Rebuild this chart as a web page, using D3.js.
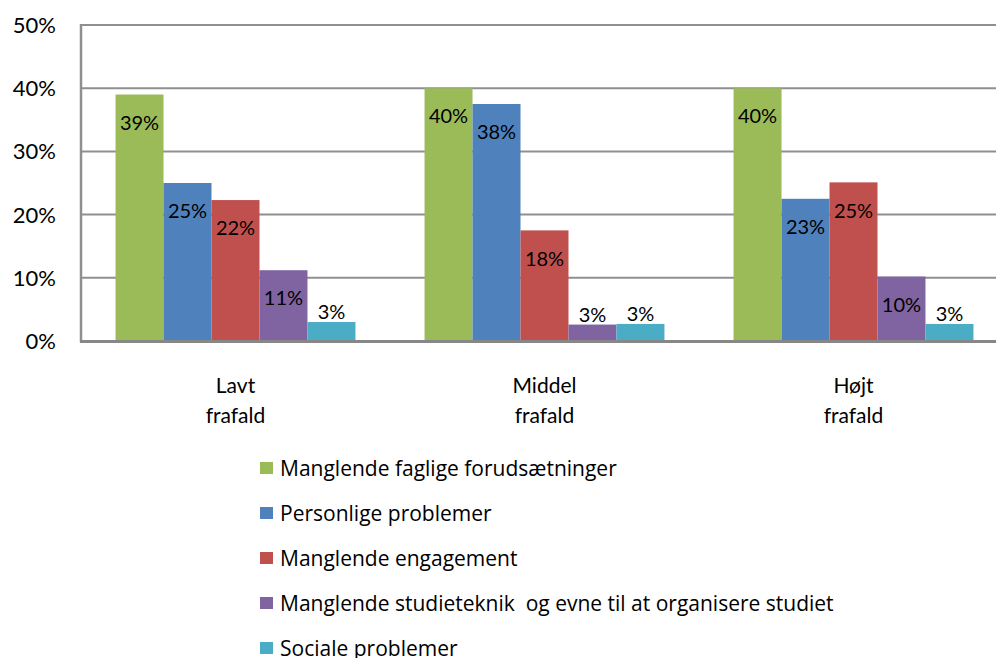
<!DOCTYPE html>
<html>
<head>
<meta charset="utf-8">
<script src="https://cdn.jsdelivr.net/npm/d3@7"></script>
<style>
  body { margin: 0; background: #fff; }
  text { font-family: Lato, "Open Sans", sans-serif; fill: #000; }
  .legend text { font-family: "Open Sans", Lato, sans-serif; }
</style>
</head>
<body>
<div id="chart"></div>
<script>
// data
var categories = [["Lavt", "frafald"], ["Middel", "frafald"], ["Højt", "frafald"]];
var seriesNames = [
  "Manglende faglige forudsætninger",
  "Personlige problemer",
  "Manglende engagement",
  "Manglende studieteknik  og evne til at organisere studiet",
  "Sociale problemer"
];
var seriesColors = ["#9BBB59", "#4F81BD", "#C0504D", "#8064A2", "#4BACC6"];
// values per series, one per category
var faglige = [0.39, 0.40, 0.40];
var personlige = [0.25, 0.375, 0.225];
var engagement = [0.223, 0.175, 0.251];
var studieteknik = [0.112, 0.026, 0.102];
var sociale = [0.030, 0.027, 0.027];
var labels = [["39%", "40%", "40%"], ["25%", "38%", "23%"], ["22%", "18%", "25%"], ["11%", "3%", "10%"], ["3%", "3%", "3%"]];
var yTicks = [0, 0.1, 0.2, 0.3, 0.4, 0.5];

var values = [faglige, personlige, engagement, studieteknik, sociale];

var width = 996, height = 658;
var plotLeft = 81, plotTop = 25, plotBottom = 341, plotRight = 1008;

var svg = d3.select("#chart").append("svg")
    .attr("width", width)
    .attr("height", height);

var x0 = d3.scaleBand()
    .domain(d3.range(categories.length))
    .range([plotLeft, plotRight]);

var x1 = d3.scaleBand()
    .domain(d3.range(seriesNames.length))
    .range([0, x0.bandwidth()])
    .paddingOuter(0.72);

var y = d3.scaleLinear()
    .domain([0, 0.5])
    .range([plotBottom, plotTop]);

// gridlines
svg.append("g")
    .selectAll("line")
    .data(yTicks.slice(1))
    .enter()
    .append("line")
    .attr("x1", plotLeft)
    .attr("x2", plotRight)
    .attr("y1", d => y(d))
    .attr("y2", d => y(d))
    .attr("stroke", "#8f8f8f")
    .attr("stroke-width", 2);

// y tick labels
svg.append("g")
    .selectAll("text")
    .data(yTicks)
    .enter()
    .append("text")
    .attr("x", 56)
    .attr("y", d => y(d))
    .attr("dy", "0.36em")
    .style("text-anchor", "end")
    .style("font-size", "22px")
    .text(d => d3.format(".0%")(d));

// bars
var groups = svg.append("g")
    .selectAll("g")
    .data(values)
    .enter()
    .append("g")
    .attr("fill", (d, i) => seriesColors[i]);

groups.each(function (vals, s) {
  var g = d3.select(this);
  g.selectAll("rect")
      .data(vals)
      .enter()
      .append("rect")
      .attr("x", (d, c) => x0(c) + x1(s))
      .attr("y", d => y(d))
      .attr("width", x1.bandwidth())
      .attr("height", d => plotBottom - y(d));

  g.selectAll("text")
      .data(vals)
      .enter()
      .append("text")
      .attr("x", (d, c) => x0(c) + x1(s) + x1.bandwidth() / 2)
      .attr("y", d => (plotBottom - y(d)) > 30 ? y(d) + 28 : y(d) - 3)
      .attr("dy", d => (plotBottom - y(d)) > 30 ? "0.36em" : "0")
      .style("text-anchor", "middle")
      .style("font-size", "20px")
      .text((d, c) => labels[s][c]);
});

// axes lines
svg.append("line")
    .attr("x1", plotLeft)
    .attr("x2", plotLeft)
    .attr("y1", plotTop - 1)
    .attr("y2", plotBottom + 1)
    .attr("stroke", "#8f8f8f")
    .attr("stroke-width", 2.5);

svg.append("line")
    .attr("x1", plotLeft - 1)
    .attr("x2", plotRight)
    .attr("y1", plotBottom + 0.5)
    .attr("y2", plotBottom + 0.5)
    .attr("stroke", "#878787")
    .attr("stroke-width", 3);

// category labels
var cat = svg.append("g")
    .selectAll("text")
    .data(categories)
    .enter()
    .append("text")
    .attr("x", (d, i) => x0(i) + x0.bandwidth() / 2)
    .attr("y", 393)
    .style("text-anchor", "middle")
    .style("font-size", "21px");

cat.selectAll("tspan")
    .data(d => d)
    .enter()
    .append("tspan")
    .attr("x", function () { return d3.select(this.parentNode).attr("x"); })
    .attr("dy", (d, i) => i === 0 ? 0 : 30)
    .text(d => d);

// legend
var legend = svg.append("g")
    .attr("class", "legend")
    .selectAll("g")
    .data(seriesNames)
    .enter()
    .append("g")
    .attr("transform", (d, i) => `translate(260, ${468 + i * 45})`);

legend.append("rect")
    .attr("x", 0)
    .attr("y", -6)
    .attr("width", 13)
    .attr("height", 12)
    .attr("fill", (d, i) => seriesColors[i]);

legend.append("text")
    .attr("x", 20)
    .attr("y", 0)
    .attr("dy", "0.36em")
    .style("font-size", "21px")
    .style("white-space", "pre")
    .text(d => d);
</script>
</body>
</html>
